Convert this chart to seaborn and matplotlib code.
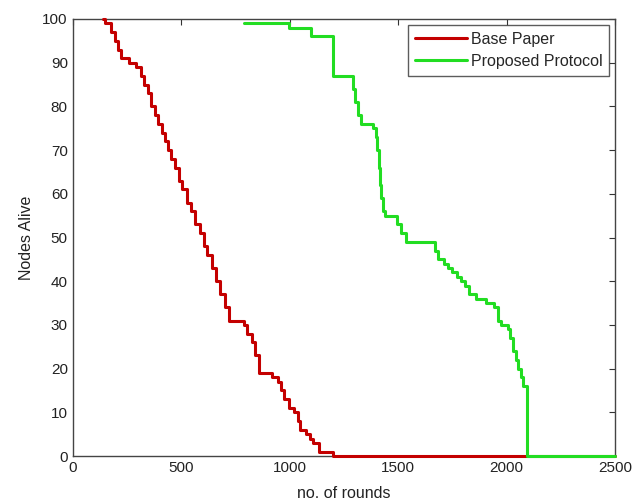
import matplotlib
matplotlib.use("Agg")
import matplotlib.pyplot as plt
import seaborn as sns
import pandas as pd

# Base Paper: nodes alive per round (step curve)
base_rounds = [140, 150, 175, 195, 210, 225, 260, 290, 315, 330, 345, 360, 380, 395,
               410, 425, 440, 455, 470, 490, 505, 525, 545, 565, 585, 605, 620, 640,
               660, 680, 700, 720, 790, 805, 825, 840, 860, 920, 945, 960, 975, 995,
               1020, 1040, 1050, 1075, 1095, 1110, 1135, 1200, 2500]
base_alive = [100, 99, 97, 95, 93, 91, 90, 89, 87, 85, 83, 80, 78, 76,
              74, 72, 70, 68, 66, 63, 61, 58, 56, 53, 51, 48, 46, 43,
              40, 37, 34, 31, 30, 28, 26, 23, 19, 18, 17, 15, 13, 11,
              10, 8, 6, 5, 4, 3, 1, 0, 0]

# Proposed Protocol
prop_rounds = [790, 995, 1100, 1200, 1290, 1300, 1315, 1330, 1385, 1400, 1405, 1410,
               1415, 1420, 1430, 1440, 1495, 1515, 1535, 1670, 1685, 1710, 1730, 1750,
               1770, 1790, 1810, 1825, 1860, 1905, 1940, 1960, 1975, 2005, 2015, 2030,
               2045, 2055, 2065, 2075, 2095, 2500]
prop_alive = [99, 98, 96, 87, 84, 81, 78, 76, 75, 73, 70, 66,
              62, 59, 56, 55, 53, 51, 49, 47, 45, 44, 43, 42,
              41, 40, 39, 37, 36, 35, 34, 31, 30, 29, 27, 24,
              22, 20, 18, 16, 0, 0]

base_df = pd.DataFrame({"rounds": base_rounds, "alive": base_alive})
prop_df = pd.DataFrame({"rounds": prop_rounds, "alive": prop_alive})

sns.set_style("white")
plt.rcParams["font.family"] = ["Liberation Sans", "DejaVu Sans"]

fig = plt.figure(figsize=(6.41, 5.0), dpi=100)
ax = fig.add_axes([0.1134, 0.088, 0.8460, 0.874])

sns.lineplot(data=base_df, x="rounds", y="alive", ax=ax, color="#c40000",
             linewidth=2.2, drawstyle="steps-post", label="Base Paper", sort=False,
             clip_on=False)
sns.lineplot(data=prop_df, x="rounds", y="alive", ax=ax, color="#22dd22",
             linewidth=2.2, drawstyle="steps-post", label="Proposed Protocol", sort=False,
             clip_on=False)

ax.set_xlim(0, 2500)
ax.set_ylim(0, 100)
ax.set_xticks(range(0, 2501, 500))
ax.set_yticks(range(0, 101, 10))
ax.tick_params(direction="in", top=True, right=True, length=4, width=0.8,
               labelsize=11, colors="#333333", labelcolor="#222222")
for s in ax.spines.values():
    s.set_color("#444444")
    s.set_linewidth(1)
    s.set_zorder(1)
ax.set_xlabel("no. of rounds", fontsize=11.5, color="#222222", labelpad=8)
ax.set_ylabel("Nodes Alive", fontsize=11.5, color="#222222", labelpad=6)

leg = ax.legend(loc="upper right", fontsize=11.5, frameon=True, fancybox=False,
                borderaxespad=0.35, handlelength=3.2, handletextpad=0.25,
                borderpad=0.45, labelspacing=0.45)
leg.get_frame().set_edgecolor("#333333")
leg.get_frame().set_linewidth(1)

fig.savefig("out.png", dpi=100)
